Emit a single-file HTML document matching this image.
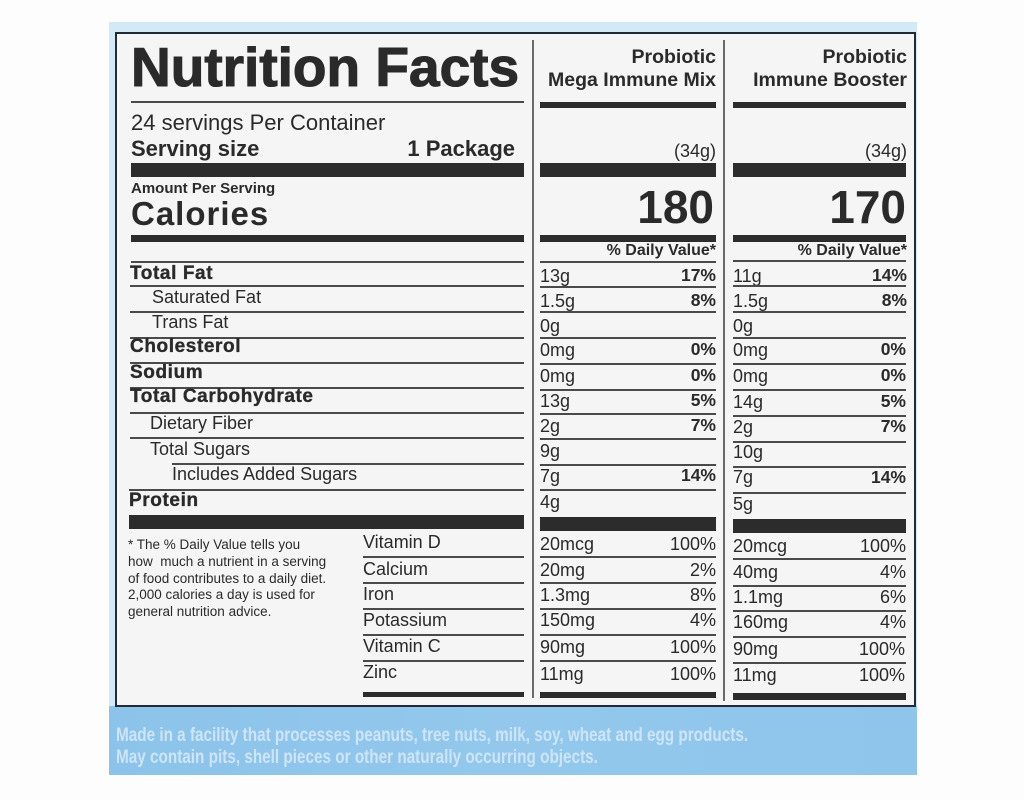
<!DOCTYPE html>
<html><head><meta charset="utf-8"><style>
html,body{margin:0;padding:0;}
body{width:1024px;height:800px;position:relative;background:#fdfdfd;overflow:hidden;font-family:"Liberation Sans",Arial,sans-serif;color:#2a2a2a;}
.a{position:absolute;}
.t{position:absolute;white-space:nowrap;line-height:1;}
.b{font-weight:bold;}
.r{text-align:right;}
.ln{position:absolute;height:2px;background:#4a4a4a;}
.bar{position:absolute;background:#2c2c2c;}
.vd{position:absolute;width:2px;background:#6a6a6a;}
.nb{font-weight:bold;font-size:19px;letter-spacing:0.6px;-webkit-text-stroke:0.35px #2a2a2a;}
.rg{font-size:18px;}
.v{font-size:18px;}
.p{font-size:17.5px;font-weight:bold;}
</style></head><body>
<!-- blue panel -->
<div class="a" style="left:109px;top:22px;width:808px;height:753px;background:#d3e9f8;"></div>
<div class="a" style="left:109px;top:706px;width:808px;height:69px;background:linear-gradient(90deg,#8cc3ea 0%,#93c8ec 50%,#8fc5eb 100%);"></div>
<!-- label box -->
<div class="a" style="left:115px;top:32px;width:797px;height:671px;border:2px solid #222a36;background:#f5f5f5;"></div>

<!-- header left -->
<div class="t b" style="left:131px;top:40px;font-size:55px;-webkit-text-stroke:1.1px #2a2a2a;">Nutrition Facts</div>
<div class="ln" style="left:131px;top:101px;width:393px;"></div>
<div class="t" style="left:131px;top:112px;font-size:22px;">24 servings Per Container</div>
<div class="t b" style="left:131px;top:138px;font-size:22px;">Serving size</div>
<div class="t b" style="right:509px;top:138px;font-size:22px;">1 Package</div>
<div class="bar" style="left:131px;top:163px;width:393px;height:14px;"></div>
<div class="t b" style="left:131px;top:181px;font-size:15px;">Amount Per Serving</div>
<div class="t b" style="left:131px;top:197px;font-size:33px;letter-spacing:1px;">Calories</div>
<div class="bar" style="left:131px;top:235px;width:393px;height:7px;"></div>
<div class="ln" style="left:131px;top:261px;width:393px;"></div>

<!-- nutrient rows left -->
<div class="t nb" style="left:130px;top:264px;">Total Fat</div>
<div class="ln" style="left:130px;top:285px;width:394px;"></div>
<div class="t rg" style="left:152px;top:288px;">Saturated Fat</div>
<div class="ln" style="left:130px;top:311px;width:394px;"></div>
<div class="t rg" style="left:152px;top:313px;">Trans Fat</div>
<div class="ln" style="left:130px;top:337px;width:394px;"></div>
<div class="t nb" style="left:130px;top:337px;">Cholesterol</div>
<div class="ln" style="left:130px;top:362px;width:394px;"></div>
<div class="t nb" style="left:130px;top:363px;">Sodium</div>
<div class="ln" style="left:130px;top:387px;width:394px;"></div>
<div class="t nb" style="left:130px;top:387px;">Total Carbohydrate</div>
<div class="ln" style="left:130px;top:412px;width:394px;"></div>
<div class="t rg" style="left:150px;top:414px;">Dietary Fiber</div>
<div class="ln" style="left:130px;top:437px;width:394px;"></div>
<div class="t rg" style="left:150px;top:440px;">Total Sugars</div>
<div class="ln" style="left:172px;top:463px;width:352px;"></div>
<div class="t rg" style="left:172px;top:465px;">Includes Added Sugars</div>
<div class="ln" style="left:129px;top:489px;width:395px;"></div>
<div class="t nb" style="left:129px;top:491px;">Protein</div>
<div class="bar" style="left:129px;top:515px;width:395px;height:14px;"></div>

<!-- footnote -->
<div class="a" style="left:128px;top:537px;font-size:13.5px;line-height:16.8px;white-space:nowrap;">* The % Daily Value tells you<br>how&nbsp; much a nutrient in a serving<br>of food contributes to a daily diet.<br>2,000 calories a day is used for<br>general nutrition advice.</div>

<!-- vitamins labels -->
<div class="t rg" style="left:363px;top:533px;">Vitamin D</div>
<div class="ln" style="left:363px;top:556px;width:161px;"></div>
<div class="t rg" style="left:363px;top:560px;">Calcium</div>
<div class="ln" style="left:363px;top:582px;width:161px;"></div>
<div class="t rg" style="left:363px;top:585px;">Iron</div>
<div class="ln" style="left:363px;top:608px;width:161px;"></div>
<div class="t rg" style="left:363px;top:611px;">Potassium</div>
<div class="ln" style="left:363px;top:634px;width:161px;"></div>
<div class="t rg" style="left:363px;top:637px;">Vitamin C</div>
<div class="ln" style="left:363px;top:660px;width:161px;"></div>
<div class="t rg" style="left:363px;top:663px;">Zinc</div>
<div class="bar" style="left:363px;top:692px;width:161px;height:5px;"></div>

<!-- dividers -->
<div class="vd" style="left:532px;top:40px;height:658px;"></div>
<div class="vd" style="left:723px;top:40px;height:661px;"></div>

<!-- column 1 -->
<div class="t b r" style="right:308px;top:48px;font-size:19.5px;">Probiotic</div>
<div class="t b r" style="right:308px;top:71px;font-size:19.5px;">Mega Immune Mix</div>
<div class="bar" style="left:540px;top:102px;width:176px;height:6px;"></div>
<div class="t r" style="right:308px;top:142px;font-size:18px;">(34g)</div>
<div class="bar" style="left:540px;top:163px;width:176px;height:14px;"></div>
<div class="t b r" style="right:310px;top:184px;font-size:46px;">180</div>
<div class="bar" style="left:540px;top:235px;width:176px;height:7px;"></div>
<div class="t b r" style="right:308px;top:243px;font-size:16px;">% Daily Value*</div>
<div class="ln" style="left:540px;top:261px;width:176px;"></div>

<div class="t v" style="left:540px;top:267px;">13g</div><div class="t p r" style="right:308px;top:267px;">17%</div>
<div class="ln" style="left:540px;top:286px;width:176px;"></div>
<div class="t v" style="left:540px;top:292px;">1.5g</div><div class="t p r" style="right:308px;top:292px;">8%</div>
<div class="ln" style="left:540px;top:311px;width:176px;"></div>
<div class="t v" style="left:540px;top:317px;">0g</div>
<div class="ln" style="left:540px;top:337px;width:176px;"></div>
<div class="t v" style="left:540px;top:341px;">0mg</div><div class="t p r" style="right:308px;top:341px;">0%</div>
<div class="ln" style="left:540px;top:363px;width:176px;"></div>
<div class="t v" style="left:540px;top:367px;">0mg</div><div class="t p r" style="right:308px;top:367px;">0%</div>
<div class="ln" style="left:540px;top:389px;width:176px;"></div>
<div class="t v" style="left:540px;top:392px;">13g</div><div class="t p r" style="right:308px;top:392px;">5%</div>
<div class="ln" style="left:540px;top:413px;width:176px;"></div>
<div class="t v" style="left:540px;top:417px;">2g</div><div class="t p r" style="right:308px;top:417px;">7%</div>
<div class="ln" style="left:540px;top:438px;width:176px;"></div>
<div class="t v" style="left:540px;top:442px;">9g</div>
<div class="ln" style="left:540px;top:464px;width:176px;"></div>
<div class="t v" style="left:540px;top:467px;">7g</div><div class="t p r" style="right:308px;top:467px;">14%</div>
<div class="ln" style="left:540px;top:489px;width:176px;"></div>
<div class="t v" style="left:540px;top:493px;">4g</div>
<div class="bar" style="left:540px;top:517px;width:176px;height:14px;"></div>

<div class="t v" style="left:540px;top:535px;">20mcg</div><div class="t v r" style="right:308px;top:535px;">100%</div>
<div class="ln" style="left:540px;top:556px;width:176px;"></div>
<div class="t v" style="left:540px;top:561px;">20mg</div><div class="t v r" style="right:308px;top:561px;">2%</div>
<div class="ln" style="left:540px;top:582px;width:176px;"></div>
<div class="t v" style="left:540px;top:586px;">1.3mg</div><div class="t v r" style="right:308px;top:586px;">8%</div>
<div class="ln" style="left:540px;top:608px;width:176px;"></div>
<div class="t v" style="left:540px;top:611px;">150mg</div><div class="t v r" style="right:308px;top:611px;">4%</div>
<div class="ln" style="left:540px;top:634px;width:176px;"></div>
<div class="t v" style="left:540px;top:638px;">90mg</div><div class="t v r" style="right:308px;top:638px;">100%</div>
<div class="ln" style="left:540px;top:660px;width:176px;"></div>
<div class="t v" style="left:540px;top:665px;">11mg</div><div class="t v r" style="right:308px;top:665px;">100%</div>
<div class="bar" style="left:540px;top:692px;width:176px;height:6px;"></div>

<!-- column 2 -->
<div class="t b r" style="right:117px;top:48px;font-size:19.5px;">Probiotic</div>
<div class="t b r" style="right:117px;top:71px;font-size:19.5px;">Immune Booster</div>
<div class="bar" style="left:733px;top:102px;width:173px;height:6px;"></div>
<div class="t r" style="right:117px;top:142px;font-size:18px;">(34g)</div>
<div class="bar" style="left:733px;top:163px;width:173px;height:14px;"></div>
<div class="t b r" style="right:118px;top:184px;font-size:46px;">170</div>
<div class="bar" style="left:733px;top:235px;width:173px;height:7px;"></div>
<div class="t b r" style="right:117px;top:243px;font-size:16px;">% Daily Value*</div>
<div class="ln" style="left:733px;top:260px;width:173px;"></div>

<div class="t v" style="left:733px;top:267px;">11g</div><div class="t p r" style="right:117px;top:267px;">14%</div>
<div class="ln" style="left:733px;top:285px;width:173px;"></div>
<div class="t v" style="left:733px;top:292px;">1.5g</div><div class="t p r" style="right:117px;top:292px;">8%</div>
<div class="ln" style="left:733px;top:311px;width:173px;"></div>
<div class="t v" style="left:733px;top:317px;">0g</div>
<div class="ln" style="left:733px;top:337px;width:173px;"></div>
<div class="t v" style="left:733px;top:341px;">0mg</div><div class="t p r" style="right:118px;top:341px;">0%</div>
<div class="ln" style="left:733px;top:363px;width:173px;"></div>
<div class="t v" style="left:733px;top:367px;">0mg</div><div class="t p r" style="right:118px;top:367px;">0%</div>
<div class="ln" style="left:733px;top:389px;width:173px;"></div>
<div class="t v" style="left:733px;top:393px;">14g</div><div class="t p r" style="right:118px;top:393px;">5%</div>
<div class="ln" style="left:733px;top:415px;width:173px;"></div>
<div class="t v" style="left:733px;top:418px;">2g</div><div class="t p r" style="right:118px;top:418px;">7%</div>
<div class="ln" style="left:733px;top:441px;width:173px;"></div>
<div class="t v" style="left:733px;top:443px;">10g</div>
<div class="ln" style="left:733px;top:466px;width:173px;"></div>
<div class="t v" style="left:733px;top:468px;">7g</div><div class="t p r" style="right:118px;top:469px;">14%</div>
<div class="ln" style="left:733px;top:492px;width:173px;"></div>
<div class="t v" style="left:733px;top:495px;">5g</div>
<div class="bar" style="left:733px;top:519px;width:173px;height:14px;"></div>

<div class="t v" style="left:733px;top:537px;">20mcg</div><div class="t v r" style="right:118px;top:537px;">100%</div>
<div class="ln" style="left:733px;top:558px;width:173px;"></div>
<div class="t v" style="left:733px;top:563px;">40mg</div><div class="t v r" style="right:118px;top:563px;">4%</div>
<div class="ln" style="left:733px;top:585px;width:173px;"></div>
<div class="t v" style="left:733px;top:588px;">1.1mg</div><div class="t v r" style="right:118px;top:588px;">6%</div>
<div class="ln" style="left:733px;top:610px;width:173px;"></div>
<div class="t v" style="left:733px;top:613px;">160mg</div><div class="t v r" style="right:118px;top:613px;">4%</div>
<div class="ln" style="left:733px;top:636px;width:173px;"></div>
<div class="t v" style="left:733px;top:640px;">90mg</div><div class="t v r" style="right:119px;top:640px;">100%</div>
<div class="ln" style="left:733px;top:662px;width:173px;"></div>
<div class="t v" style="left:733px;top:666px;">11mg</div><div class="t v r" style="right:119px;top:666px;">100%</div>
<div class="bar" style="left:733px;top:693px;width:173px;height:7px;"></div>

<!-- bottom band text -->
<div class="a" style="left:116px;top:725px;font-size:19px;line-height:22px;font-weight:bold;color:#cde5f7;white-space:nowrap;transform:scaleX(0.805);transform-origin:0 0;">Made in a facility that processes peanuts, tree nuts, milk, soy, wheat and egg products.<br>May contain pits, shell pieces or other naturally occurring objects.</div>
</body></html>
